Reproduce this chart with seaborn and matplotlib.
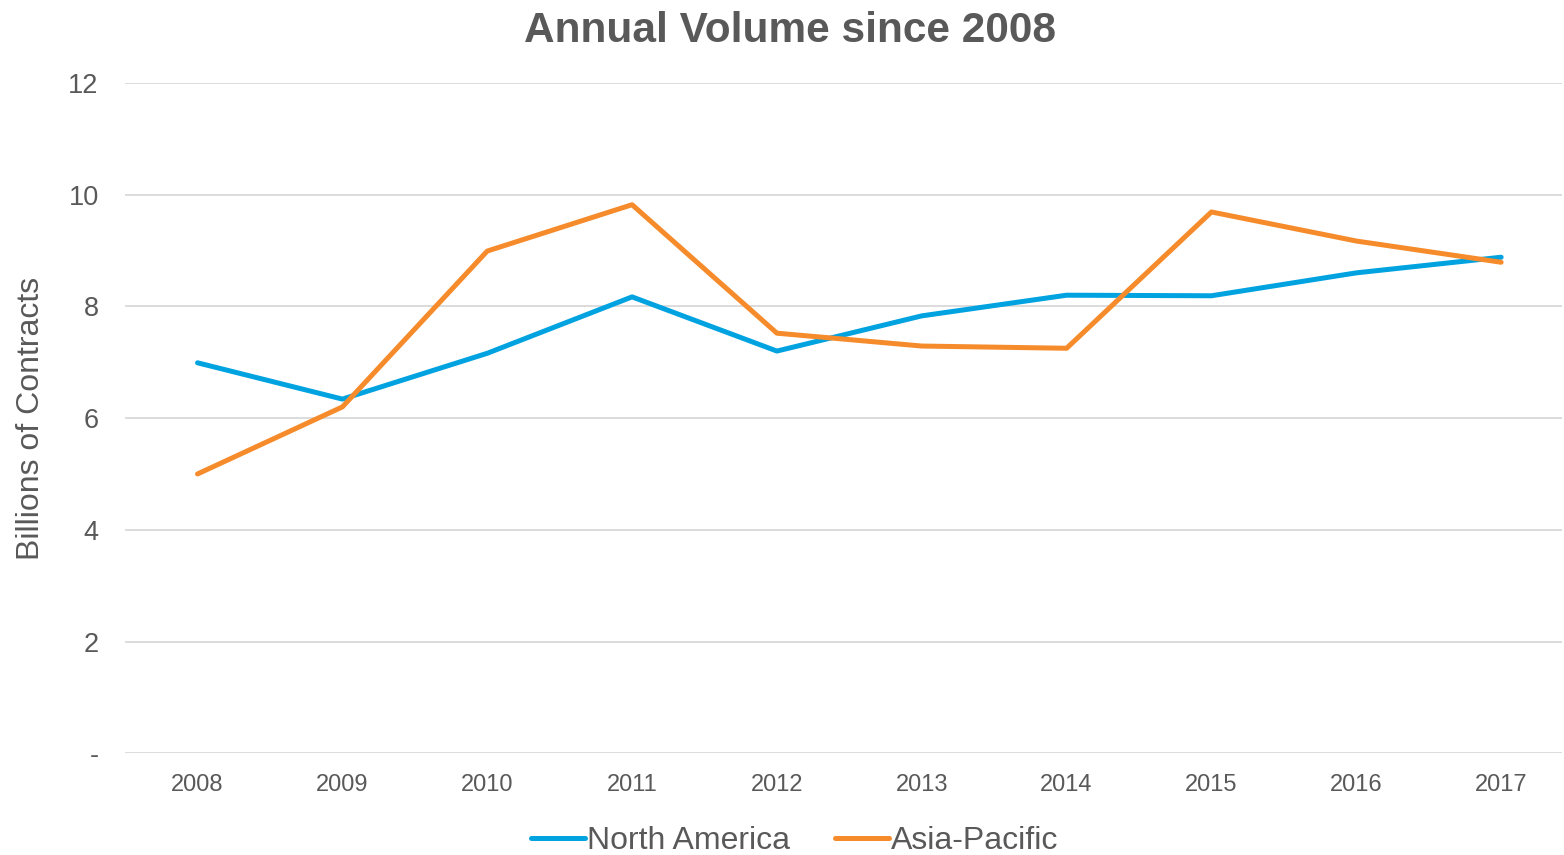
import pandas as pd
import seaborn as sns
import matplotlib.pyplot as plt

# Data
years = ['2008', '2009', '2010', '2011', '2012', '2013', '2014', '2015', '2016', '2017']
north_america = [6.99, 6.34, 7.16, 8.17, 7.20, 7.83, 8.20, 8.19, 8.60, 8.88]
asia_pacific = [5.00, 6.20, 8.99, 9.82, 7.52, 7.29, 7.25, 9.69, 9.17, 8.79]
series_names = ['North America', 'Asia-Pacific']
y_ticks = [0, 2, 4, 6, 8, 10, 12]
y_tick_labels = ['-', '2', '4', '6', '8', '10', '12']

df = pd.DataFrame({'year': years, series_names[0]: north_america, series_names[1]: asia_pacific})
df_long = df.melt(id_vars='year', var_name='region', value_name='volume')
df_long['pos'] = df_long['year'].map({y: i for i, y in enumerate(years)})

sns.set_theme(style='white')
plt.rcParams['font.family'] = ['Liberation Sans', 'DejaVu Sans']
text_color = '#595959'
colors = {'North America': '#00A3E0', 'Asia-Pacific': '#F68B2B'}

fig, ax = plt.subplots(figsize=(15.64, 8.55), dpi=100)
fig.subplots_adjust(left=0.080, right=0.9987, top=0.903, bottom=0.119)

sns.lineplot(data=df_long, x='pos', y='volume', hue='region', palette=colors,
             linewidth=3.6, ax=ax, legend=False, zorder=3)

ax.set_xlim(-0.5, 9.42)
ax.set_ylim(0, 12)
ax.set_xticks(range(len(years)))
ax.set_xticklabels(years, fontsize=17, color=text_color)
ax.set_yticks(y_ticks)
ax.set_yticklabels(y_tick_labels, fontsize=19.5, color=text_color)
ax.tick_params(axis='x', length=0, pad=15)
ax.tick_params(axis='y', length=0, pad=19)
ax.yaxis.grid(True, color='#D9D9D9', linewidth=1.3)
ax.set_axisbelow(True)
for s in ['top', 'right', 'left', 'bottom']:
    ax.spines[s].set_visible(False)

ax.set_xlabel('')
ax.set_ylabel('Billions of Contracts', fontsize=23, color=text_color, labelpad=16)
fig.suptitle('Annual Volume since 2008', x=0.505, y=0.987, fontsize=30.5,
             fontweight='bold', color=text_color)

# legend at bottom
handles = [plt.Line2D([], [], color=colors[n], linewidth=3.6) for n in series_names]
leg = fig.legend(handles, series_names, loc='lower center', ncol=2,
                 bbox_to_anchor=(0.508, -0.035), frameon=False, fontsize=23,
                 handlelength=1.7, handletextpad=0.05, columnspacing=1.4)
for t in leg.get_texts():
    t.set_color(text_color)

fig.savefig('out.png', dpi=100)
